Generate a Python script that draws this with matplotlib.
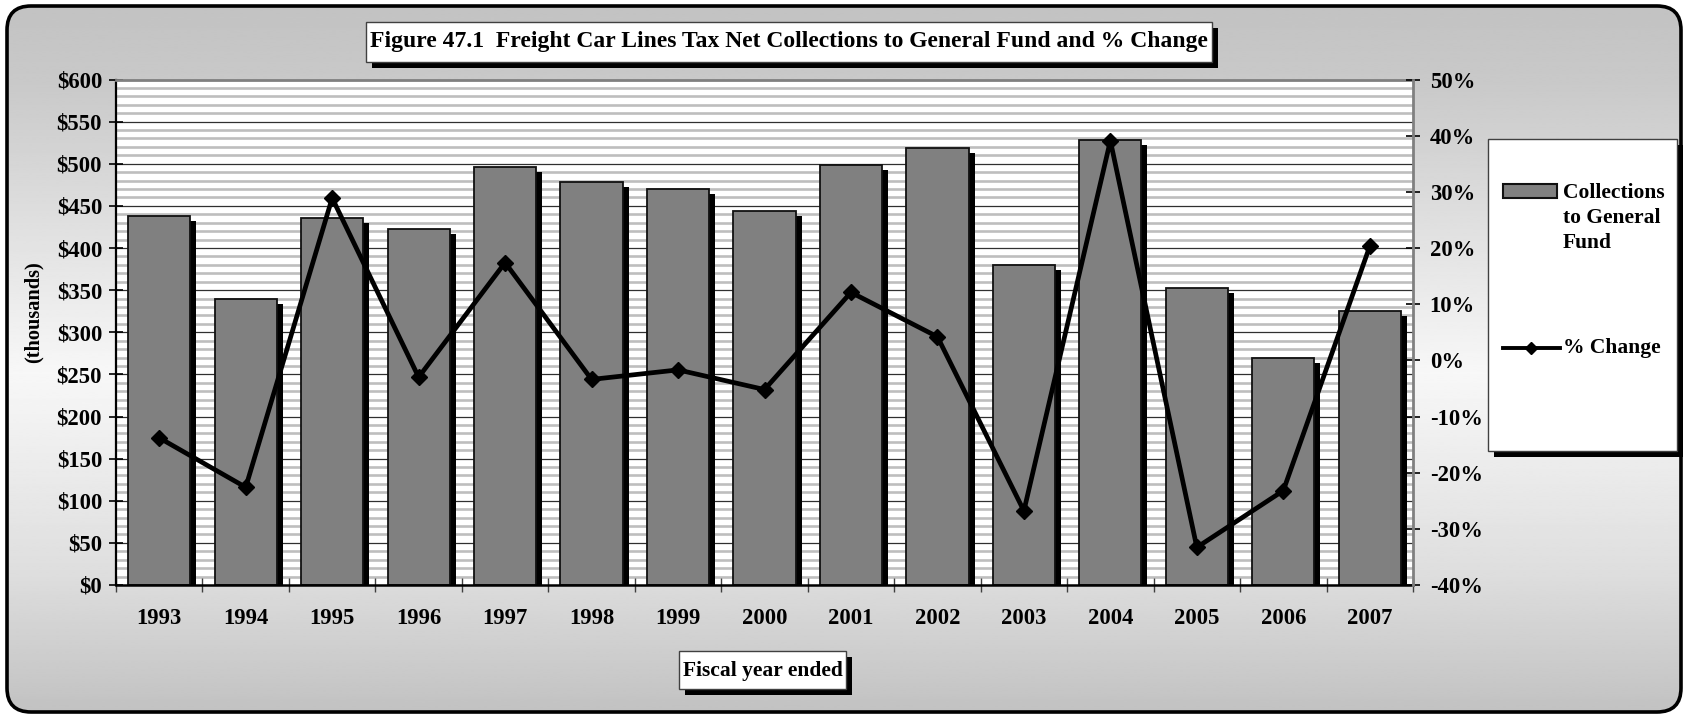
import numpy as np
import matplotlib
matplotlib.use("Agg")
import matplotlib.pyplot as plt
import matplotlib.patheffects as pe
from matplotlib.patches import FancyBboxPatch, Rectangle
from matplotlib.lines import Line2D
from matplotlib.ticker import FuncFormatter

# ---- data -------------------------------------------------------------
years = ["1993", "1994", "1995", "1996", "1997", "1998", "1999", "2000",
         "2001", "2002", "2003", "2004", "2005", "2006", "2007"]
collections = [438, 339, 436, 422, 496, 478, 470, 444, 498, 519, 380, 528, 352, 270, 325]
pct_change = [-13.8, -22.6, 28.9, -3.0, 17.4, -3.4, -1.7, -5.2, 12.1, 4.2,
              -26.8, 39.1, -33.3, -23.2, 20.3]
left_ticks = list(range(0, 601, 50))
right_ticks = list(range(-40, 51, 10))

title = "Figure 47.1  Freight Car Lines Tax Net Collections to General Fund and % Change"
bar_label = "Collections\nto General\nFund"
line_label = "% Change"
xlabel = "Fiscal year ended"
ylabel = "(thousands)"

# ---- figure -----------------------------------------------------------
W, H, DPI = 1688, 718, 100
plt.rcParams["font.family"] = ["Liberation Serif", "DejaVu Serif"]
plt.rcParams["font.weight"] = "bold"
FS_TICK = 16.3
FS = 15.5

fig = plt.figure(figsize=(W / DPI, H / DPI), dpi=DPI)
fig.patch.set_facecolor("white")

# background panel: rounded frame with a vertical grey gradient
bg = fig.add_axes([0, 0, 1, 1], zorder=-10)
bg.set_xlim(0, W)
bg.set_ylim(H, 0)
bg.axis("off")
t = np.linspace(0, 1, 400)
shade = np.interp(t, [0.0, 0.12, 0.52, 0.8, 1.0], [0.76, 0.79, 0.97, 0.87, 0.755])
grad = np.repeat(shade[:, None], 2, axis=1)
img = bg.imshow(grad, extent=[0, W, H, 0], cmap="gray", vmin=0, vmax=1,
                aspect="auto", interpolation="bilinear")
frame = FancyBboxPatch((7, 6), W - 14, H - 12,
                       boxstyle="round,pad=0,rounding_size=24",
                       fc="none", ec="black", lw=2.6, transform=bg.transData)
bg.add_patch(frame)
img.set_clip_path(frame)

# ---- main axes --------------------------------------------------------
L, R, T, B = 116, 1413, 79.5, 585
ax = fig.add_axes([L / W, 1 - B / H, (R - L) / W, (B - T) / H], zorder=1)
ax.set_facecolor("white")
x = np.arange(len(years))
ax.set_xlim(-0.5, len(years) - 0.5)
ax.set_ylim(left_ticks[0], left_ticks[-1])

# striped fill and major grid
for v in range(left_ticks[0] + 10, left_ticks[-1], 10):
    if v % 50:
        ax.axhline(v, color="#bebebe", lw=1.9, zorder=0.5)
for v in left_ticks[1:-1]:
    ax.axhline(v, color="#303030", lw=0.9, zorder=0.6)

shadow = [pe.SimplePatchShadow(offset=(4.3, -3.6), shadow_rgbFace="black", alpha=1.0),
          pe.Normal()]
ax.bar(x, collections, width=0.72, color="#808080", edgecolor="#111111",
       lw=1.3, zorder=2, path_effects=shadow)

ax.set_yticks(left_ticks)
ax.yaxis.set_major_formatter(FuncFormatter(lambda v, p: f"${v:.0f}"))
ax.tick_params(axis="y", direction="inout", length=10, width=1.2, pad=5,
               labelsize=FS_TICK, colors="black")
ax.set_xticks(np.arange(-0.5, len(years), 1))
ax.set_xticklabels([])
ax.set_xticks(x, minor=True)
ax.set_xticklabels(years, minor=True, fontsize=FS_TICK)
ax.tick_params(axis="x", which="major", direction="inout", length=10,
               width=1, color="#404040")
ax.tick_params(axis="x", which="minor", length=0, pad=16.5)

ax.spines["left"].set_color("black")
ax.spines["left"].set_linewidth(1.6)
ax.spines["bottom"].set_color("black")
ax.spines["bottom"].set_linewidth(1.8)
ax.spines["top"].set_color("#808080")
ax.spines["top"].set_linewidth(2)
ax.spines["right"].set_visible(False)

# ---- percent-change line on the secondary axis ------------------------
ax2 = ax.twinx()
ax2.set_ylim(right_ticks[0], right_ticks[-1])
ax2.plot(x, pct_change, color="black", lw=3.4, marker="D", ms=8.5,
         mfc="black", mec="black", zorder=3)
ax2.set_yticks(right_ticks)
ax2.yaxis.set_major_formatter(FuncFormatter(lambda v, p: f"{v:.0f}%"))
ax2.tick_params(axis="y", direction="inout", length=10, width=1.2, pad=7,
                labelsize=FS_TICK, colors="black")
for s in ("left", "top", "bottom"):
    ax2.spines[s].set_visible(False)
ax2.spines["right"].set_color("#808080")
ax2.spines["right"].set_linewidth(2)

# ---- overlay: title, axis-title boxes, legend -------------------------
ov = fig.add_axes([0, 0, 1, 1], zorder=10)
ov.set_xlim(0, W)
ov.set_ylim(H, 0)
ov.axis("off")
ov.patch.set_visible(False)


def shadow_box(x0, y0, w, h, off=6):
    ov.add_patch(Rectangle((x0 + off, y0 + off), w, h, fc="black", ec="none"))
    ov.add_patch(Rectangle((x0, y0), w, h, fc="white", ec="#404040", lw=1))


shadow_box(366, 21.5, 846, 40.5)
ov.text(789, 42, title, ha="center", va="center", fontsize=17)

shadow_box(679, 651, 167, 38)
ov.text(762.5, 671, xlabel, ha="center", va="center", fontsize=FS)

fig.text(34 / W, 1 - 312 / H, ylabel, rotation=90, ha="center", va="center",
         fontsize=FS - 0.8)

# legend
shadow_box(1488, 139, 189, 312)
ov.add_patch(Rectangle((1503, 184), 54, 14, fc="#808080", ec="#111111", lw=1.5))
ov.text(1563, 218, bar_label, ha="left", va="center", fontsize=FS,
        linespacing=1.36)
ov.add_line(Line2D([1503, 1560], [348, 348], color="black", lw=2.8))
ov.add_line(Line2D([1531], [348], color="black", marker="D", ms=6.5))
ov.text(1563, 348, line_label, ha="left", va="center", fontsize=FS)

fig.savefig("out.png", dpi=DPI)
